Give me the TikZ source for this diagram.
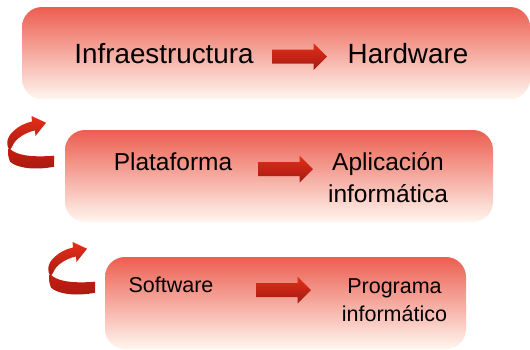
\documentclass[tikz,border=0pt]{standalone}
\usepackage{fontspec}
\setmainfont{Liberation Sans}
\definecolor{boxtop}{HTML}{EC5E50}
\definecolor{boxbot}{HTML}{FFF6EF}
\definecolor{arrtop}{HTML}{E62E18}
\definecolor{arrbot}{HTML}{A01A12}
\tikzset{
  x=1pt,y=-1pt,
  layerbox/.style={rounded corners=20pt,top color=boxtop,bottom color=boxbot,draw=none,shading angle=0},
  lab/.style={text=black,inner sep=0pt,align=center,font=#1},
  blockarrow/.style={top color=arrtop,bottom color=arrbot,draw=none},
  pics/rarrow/.style={code={
    \shade[blockarrow] (0,-7) -- (41.5,-7) -- (41.5,-13.5) -- (55,0) -- (41.5,13.5) -- (41.5,7) -- (0,7) -- cycle;
  }},
  pics/turnarrow/.style={code={
    \shade[top color=red!30!arrtop!85!black,bottom color=arrbot!90!arrtop,draw=none]
      (54,155.7) .. controls (38,157) and (17,157) .. (9,148)
      -- (8,152) .. controls (8,156) and (9,159) .. (10,161.7)
      .. controls (18,169) and (38,170) .. (54,166.7) -- cycle;
    \shade[top color=arrtop,bottom color=arrbot!90!arrtop,draw=none]
      (9.5,150) .. controls (6,146) and (6,138) .. (13,131.5)
      .. controls (18,126.5) and (25,123) .. (32,121.5)
      -- (31.5,116) -- (46,122.7) -- (35.5,136) -- (35,130.5)
      .. controls (27,132) and (15,138) .. (12,147) -- cycle;
  }}
}
\begin{document}
\begin{tikzpicture}
\useasboundingbox (0,0) rectangle (530,349);
\path[layerbox] (22,7) rectangle (530,99);
\path[layerbox] (65,130) rectangle (493,222);
\path[layerbox] (105,257) rectangle (466,349);
\node[lab={\fontsize{27.8}{30}\selectfont},anchor=center] (infra) at (164,54) {Infraestructura};
\node[lab={\fontsize{27.8}{30}\selectfont},anchor=center] (hw) at (408,54) {Hardware};
\node[lab={\fontsize{24.5}{26}\selectfont},anchor=center] (plat) at (173,162) {Plataforma};
\node[lab={\fontsize{24.5}{32}\selectfont},anchor=center] (apl) at (388,178) {Aplicación\\informática};
\node[lab={\fontsize{21.5}{28}\selectfont},anchor=center] (soft) at (171,285) {Software};
\node[lab={\fontsize{21.5}{28}\selectfont},anchor=center] (prog) at (394.5,300) {Programa\\informático};
\pic at (272,56.6) {rarrow};
\pic at (258,169) {rarrow};
\pic at (256,290) {rarrow};
\pic at (0,0) {turnarrow};
\pic at (41,126) {turnarrow};
\end{tikzpicture}
\end{document}
